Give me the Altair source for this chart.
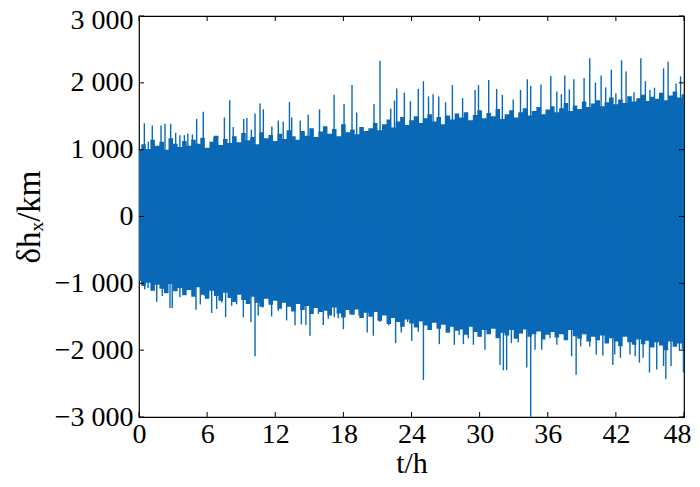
import altair as alt
import pandas as pd

# ---- data ----
# dense envelope of the signal, one reading every 0.4 h
fringe_t = [round(0.4 * i, 1) for i in range(121)]
fringe_hi = [1000, 1080, 1010, 1150, 1060, 1120, 1000, 1170, 1090, 1040, 1130,
             1060, 1150, 1090, 1180, 1030, 1120, 1210, 1070, 1160, 1100,
             1200, 1110, 1250, 1140, 1190, 1080, 1260, 1170, 1220, 1130,
             1240, 1160, 1290, 1200, 1150, 1280, 1210, 1320, 1190, 1270,
             1350, 1240, 1310, 1200, 1380, 1260, 1300, 1230, 1340, 1280,
             1320, 1400, 1290, 1380, 1450, 1330, 1420, 1490, 1370, 1440,
             1500, 1400, 1470, 1530, 1420, 1490, 1380, 1510, 1450, 1540,
             1480, 1560, 1440, 1520, 1590, 1470, 1550, 1500, 1610, 1460,
             1530, 1590, 1480, 1560, 1620, 1510, 1580, 1640, 1530, 1600,
             1650, 1560, 1620, 1700, 1580, 1660, 1610, 1720, 1640, 1690,
             1740, 1650, 1710, 1780, 1680, 1750, 1700, 1800, 1720, 1770,
             1820, 1730, 1790, 1760, 1850, 1740, 1810, 1870, 1780, 1830]
fringe_lo = [-960, -1040, -990, -1110, -1020, -1080, -1150, -1010, -1120, -1070, -1180,
             -1100, -1200, -1060, -1170, -1230, -1110, -1190, -1260, -1140, -1220,
             -1280, -1170, -1250, -1310, -1200, -1290, -1350, -1230, -1320, -1260,
             -1380, -1290, -1350, -1420, -1310, -1400, -1340, -1460, -1370, -1430,
             -1410, -1480, -1360, -1450, -1510, -1400, -1470, -1390, -1520, -1440,
             -1500, -1430, -1560, -1480, -1610, -1520, -1580, -1650, -1540, -1600,
             -1660, -1570, -1630, -1700, -1590, -1680, -1620, -1740, -1650, -1710,
             -1690, -1770, -1650, -1730, -1800, -1700, -1760, -1680, -1820, -1740,
             -1780, -1700, -1830, -1750, -1690, -1800, -1760, -1720, -1840, -1770,
             -1730, -1810, -1760, -1850, -1700, -1790, -1830, -1760, -1870, -1800,
             -1850, -1780, -1900, -1820, -1870, -1940, -1800, -1880, -1920, -1840,
             -1910, -1860, -1960, -1880, -1930, -2000, -1870, -1950, -1900, -1980]

# tall individual peaks
up_t = [0.47, 0.82, 1.17, 1.94, 2.29, 2.79, 3.23, 3.6, 4.0, 4.3, 4.7, 5.08, 5.66, 6.6, 7.52, 7.99,
        8.3, 9.22, 9.5, 9.9, 10.22, 10.66, 10.95, 11.7, 12.27, 12.7, 13.25, 13.45, 14.2, 14.9, 15.9,
        17.18, 18.06, 18.76, 19.17, 20.7, 21.23, 22.17, 22.5, 22.7, 23.37, 23.9, 24.6, 25.05, 25.5,
        25.9, 26.4, 27.0, 27.6, 28.5, 29.6, 29.9, 30.8, 31.5, 32.0, 32.96, 33.6, 34.2, 34.5, 35.4,
        36.27, 36.8, 37.2, 37.5, 37.9, 38.3, 39.2, 39.7, 40.2, 40.7, 41.1, 41.6, 42.0, 42.5, 42.9,
        43.6, 44.2, 44.6, 45.0, 45.4, 46.2, 46.6, 47.3, 47.7]
up_v = [1396, 1120, 1362, 1362, 1387, 1387, 1251, 1217, 1217, 1242, 1227, 1459, 1569, 1193, 1483, 1739,
        1338, 1459, 1474, 1300, 1541, 1691, 1604, 1348, 1435, 1420, 1714, 1483, 1435, 1522, 1604,
        1822, 1685, 1966, 1555, 1685, 2329, 1613, 1735, 1917, 1855, 1724, 1909, 2024, 1797,
        1830, 1797, 1710, 1966, 1772, 1894, 1966, 2043, 1909, 1822, 1749, 1894, 2053, 1952, 1975,
        2101, 1869, 1830, 2111, 1903, 2053, 2072, 2366, 2004, 2111, 1932, 2198, 1845, 2337, 2169,
        1859, 2366, 2024, 1894, 1927, 2217, 2314, 1990, 2097]

low_t = [0.23, 0.5, 0.8, 1.56, 2.05, 2.73, 2.93, 3.6, 4.05, 5.02, 5.4, 5.81, 6.4, 6.84, 7.28, 7.63,
         8.16, 8.6, 9.19, 9.86, 10.22, 10.5, 10.9, 11.68, 12.27, 13.0, 13.45, 13.74, 14.3, 14.7,
         15.06, 15.8, 16.23, 16.67, 17.2, 17.55, 18.0, 18.58, 19.38, 19.6, 20.1, 20.64, 21.22, 21.65,
         22.0, 22.6, 23.1, 23.66, 24.02, 24.6, 25.05, 25.5, 26.45, 26.8, 27.77, 28.2, 28.57, 29.0,
         29.45, 30.03, 30.47, 30.9, 31.5, 31.8, 32.09, 32.38, 32.8, 33.4, 33.76, 34.15, 34.5, 34.88,
         35.47, 36.2, 36.8, 37.4, 38.1, 38.5, 38.9, 39.7, 40.27, 40.85, 41.73, 41.9, 42.4, 43.24,
         43.7, 44.07, 44.4, 44.96, 45.6, 46.2, 46.4, 46.86, 47.6, 47.95]
low_v = [-1000, -1092, -1068, -1277, -1190, -1370, -1370, -1210, -1141, -1394, -1316, -1190, -1443,
         -1384, -1287, -1506, -1336, -1312, -1506, -1579, -2090, -1482, -1360, -1497, -1409, -1555,
         -1384, -1628, -1613, -1623, -1784, -1457, -1623, -1530, -1506, -1521, -1686, -1457, -1482,
         -1482, -1735, -1784, -1579, -1336, -1628, -1895, -1735, -1579, -1861, -1725, -2446, -1457,
         -1910, -1530, -1920, -1774, -1910, -1822, -1920, -1798, -1993, -1701, -1798, -2222, -2300,
         -2300, -1895, -1880, -1749, -2260, -3000, -1993, -1993, -1822, -1920, -1676, -2090, -2368,
         -1944, -1944, -2066, -2080, -2222, -2066, -2115, -2066, -2090, -2187, -2115, -2333, -2290,
         -2237, -2431, -2237, -1993, -2333]

x_ticks = [0, 6, 12, 18, 24, 30, 36, 42, 48]
y_ticks = [-3000, -2000, -1000, 0, 1000, 2000, 3000]

BLUE = "#0a69b6"
W, H = 545, 401
FONT = "Liberation Serif"

env = pd.DataFrame({"t": fringe_t, "hi": fringe_hi, "lo": fringe_lo})
spikes = pd.DataFrame({"t": up_t + low_t, "v": up_v + low_v})
xt = pd.DataFrame({"t": x_ticks})
yt = pd.DataFrame({"v": y_ticks})

xs = alt.Scale(domain=[0, 48], nice=False, zero=False)
ys = alt.Scale(domain=[-3000, 3000], nice=False, zero=False)

xaxis = alt.Axis(values=x_ticks, ticks=False, domain=False, grid=False, labelFont=FONT,
                 labelFontSize=28, labelColor="black", labelPadding=3, labelFlush=False,
                 labelAlign={"condition": {"test": "datum.value == 48", "value": "right"}, "value": "center"},
                 labelOffset={"condition": {"test": "datum.value == 48", "value": 7}, "value": 0},
                 title="t/h", titleFont=FONT, titleFontSize=30, titleFontWeight="normal",
                 titleColor="black", titlePadding=0)
yaxis = alt.Axis(values=y_ticks, ticks=False, domain=False, grid=False, labelFont=FONT,
                 labelFontSize=28, labelColor="black", labelPadding=6, labelFlush=False,
                 labelOffset={"condition": {"test": "datum.value == 3000", "value": 4}, "value": 0},
                 labelExpr="replace(format(datum.value, ','), ',', ' ')",
                 title="δhₓ/km", titleFont=FONT, titleFontSize=33, titleFontWeight="normal",
                 titleColor="black", titlePadding=8)

area = alt.Chart(env).mark_area(color=BLUE, opacity=1, interpolate="step", clip=True).encode(
    x=alt.X("t:Q", scale=xs, axis=xaxis),
    y=alt.Y("lo:Q", scale=ys, axis=yaxis),
    y2="hi:Q",
)

rules = alt.Chart(spikes).mark_rule(color=BLUE, strokeWidth=1.4, clip=True).encode(
    x=alt.X("t:Q", scale=xs),
    y=alt.Y("v:Q", scale=ys),
    y2=alt.datum(0),
)

tick_style = dict(color="black", strokeWidth=1)
xb = alt.Chart(xt).mark_rule(**tick_style).encode(x=alt.X("t:Q", scale=xs), y=alt.value(H), y2=alt.value(H - 5))
xtop = alt.Chart(xt).mark_rule(**tick_style).encode(x=alt.X("t:Q", scale=xs), y=alt.value(0), y2=alt.value(5))
yl = alt.Chart(yt).mark_rule(**tick_style).encode(y=alt.Y("v:Q", scale=ys), x=alt.value(0), x2=alt.value(5))
yr = alt.Chart(yt).mark_rule(**tick_style).encode(y=alt.Y("v:Q", scale=ys), x=alt.value(W), x2=alt.value(W - 5))

chart = alt.layer(area, rules, xb, xtop, yl, yr).properties(
    width=W, height=H,
    autosize=alt.AutoSizeParams(type="none"),
    padding={"left": 131, "top": 8, "right": 8, "bottom": 62},
    background="white",
).configure_view(stroke="black", strokeWidth=1.2)

chart.save("out.html", embed_options={"renderer": "svg", "actions": False})
